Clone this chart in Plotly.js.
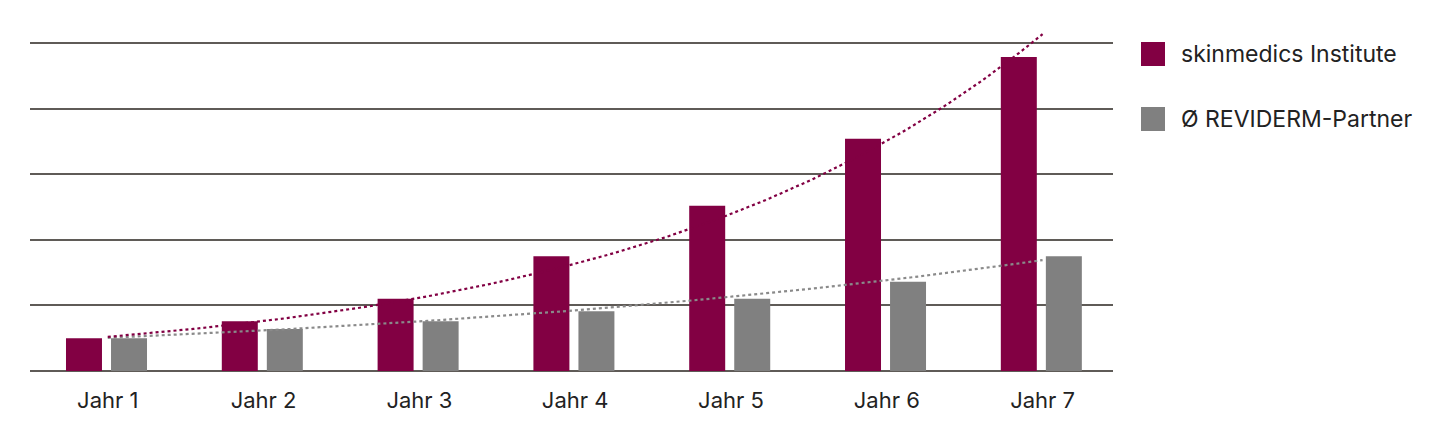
<!DOCTYPE html>
<html><head><meta charset="utf-8">
<script src="https://cdn.plot.ly/plotly-3.0.1.min.js"></script>
<style>html,body{margin:0;padding:0;background:#fff}#chart{width:1453px;height:428px}</style>
</head><body><div id="chart"></div>
<script>
const categories = ["Jahr 1","Jahr 2","Jahr 3","Jahr 4","Jahr 5","Jahr 6","Jahr 7"];
const seriesNames = ["skinmedics Institute","Ø REVIDERM-Partner"];
const skinmedics = [0.50,0.76,1.10,1.75,2.52,3.54,4.79];
const reviderm   = [0.50,0.64,0.76,0.91,1.10,1.36,1.75];
const colors = ["#820043","#808080"];
const trendColors = ["#820043","#8a8a8a"];

const xs = categories.map((_,i)=>i+1);

// exponential least-squares trendline (as in the original chart)
function expFit(vals){
  const n=vals.length, X=vals.map((_,i)=>i+1), L=vals.map(v=>Math.log(v));
  const mx=X.reduce((a,b)=>a+b)/n, ml=L.reduce((a,b)=>a+b)/n;
  let sxy=0,sxx=0; for(let i=0;i<n;i++){sxy+=(X[i]-mx)*(L[i]-ml);sxx+=(X[i]-mx)**2;}
  const b=sxy/sxx, a=ml-b*mx;
  const tx=[],ty=[];
  for(let x=1;x<=n+1e-9;x+=0.05){tx.push(x);ty.push(Math.exp(a+b*x));}
  return {tx,ty};
}
const t1=expFit(skinmedics), t2=expFit(reviderm);

const BW=0.231;
const data=[
  {type:'bar',x:xs,y:skinmedics,name:seriesNames[0],marker:{color:colors[0]},width:BW,offset:-0.268,hoverinfo:'y'},
  {type:'bar',x:xs,y:reviderm,name:seriesNames[1],marker:{color:colors[1]},width:BW,offset:0.021,hoverinfo:'y'},
  {type:'scatter',mode:'lines',x:t2.tx,y:t2.ty,line:{color:trendColors[1],width:2.2,dash:'dot'},showlegend:false,hoverinfo:'skip'},
  {type:'scatter',mode:'lines',x:t1.tx,y:t1.ty,line:{color:trendColors[0],width:2.2,dash:'dot'},showlegend:false,hoverinfo:'skip'}
];

const W=1453,H=428,L=30,R=340,T=30,B=57;
const pw=W-L-R, ph=H-T-B;
const px=v=>(v-L)/pw, py=v=>(H-B-v)/ph;

const font="Inter, 'Open Sans', sans-serif";
const legendY=[54,119];
const shapes=[], annotations=[];
seriesNames.forEach((nm,i)=>{
  shapes.push({type:'rect',xref:'paper',yref:'paper',x0:px(1141),x1:px(1165),y0:py(legendY[i]+12),y1:py(legendY[i]-12),fillcolor:colors[i],line:{width:0}});
  annotations.push({xref:'paper',yref:'paper',x:px(1179),y:py(legendY[i]),xanchor:'left',yanchor:'middle',text:nm,showarrow:false,font:{family:font,size:23,color:'#222'}});
});

const layout={
  width:W,height:H,margin:{l:L,r:R,t:T,b:B},
  paper_bgcolor:'#fff',plot_bgcolor:'#fff',
  showlegend:false,
  barmode:'overlay',
  xaxis:{range:[0.501,7.452],tickmode:'array',tickvals:xs,ticktext:categories,showgrid:false,zeroline:false,showline:false,ticks:'',
         tickfont:{family:font,size:22,color:'#222'},ticklabelstandoff:14},
  yaxis:{range:[0,5.2],dtick:1,tick0:0,showgrid:true,gridcolor:'#5f5b57',gridwidth:2,zeroline:true,zerolinecolor:'#5f5b57',zerolinewidth:2,showticklabels:false,ticks:''},
  shapes,annotations
};
Plotly.newPlot('chart',data,layout,{displayModeBar:false,staticPlot:true});
</script></body></html>
